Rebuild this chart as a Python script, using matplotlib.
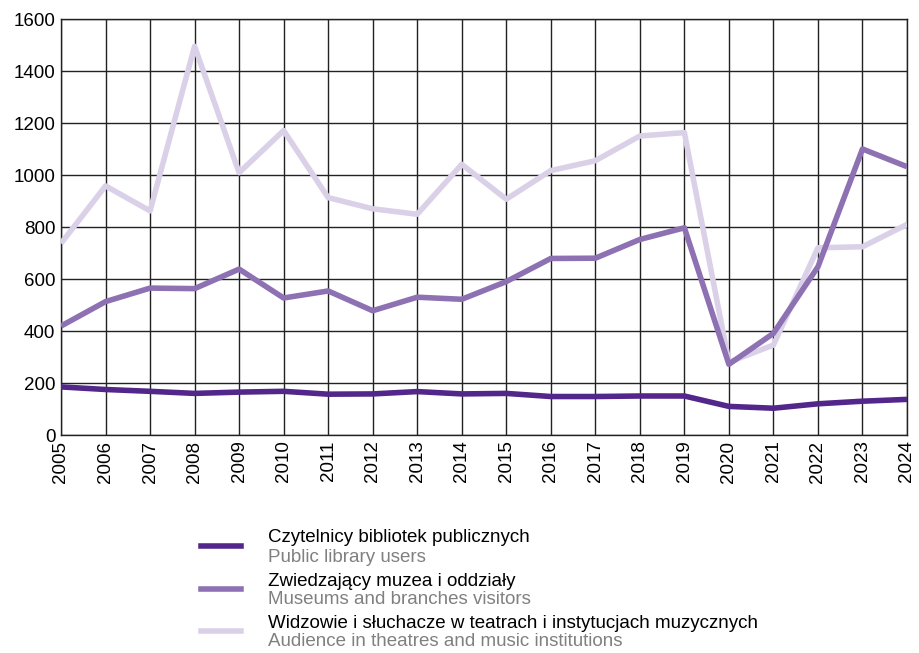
import numpy as np
import matplotlib.pyplot as plt
from matplotlib.lines import Line2D

plt.rcParams['font.family'] = ['Liberation Sans', 'DejaVu Sans']

years = list(range(2005, 2025))
library = [185, 175, 168, 160, 165, 168, 157, 158, 167, 158,
           160, 148, 148, 150, 150, 110, 103, 120, 130, 137]
museums = [419, 513, 565, 563, 638, 527, 554, 478, 530, 522,
           590, 679, 680, 752, 797, 272, 391, 647, 1100, 1032]
audience = [737, 958, 862, 1495, 1009, 1171, 913, 870, 849, 1041,
            907, 1017, 1055, 1150, 1163, 280, 346, 720, 724, 810]

labels_pl = ['Czytelnicy bibliotek publicznych',
             'Zwiedzający muzea i oddziały',
             'Widzowie i słuchacze w teatrach i instytucjach muzycznych']
labels_en = ['Public library users',
             'Museums and branches visitors',
             'Audience in theatres and music institutions']
colors = ['#52268a', '#8d71b3', '#dad1e8']

fig = plt.figure(figsize=(9.19, 6.53), dpi=100)
ax = fig.add_axes([61/919, 1-435/653, 846/919, 416/653])

series = [library, museums, audience]
for vals, c in reversed(list(zip(series, colors))):
    ax.plot(years, vals, color=c, lw=4, solid_capstyle='butt', zorder=3)

ax.set_xlim(2005, 2024)
ax.set_ylim(0, 1600)
ax.set_xticks(years)
ax.set_xticklabels([str(y) for y in years], rotation=90, fontsize=13.5)
ax.set_yticks(np.arange(0, 1601, 200))
ax.tick_params(axis='y', labelsize=13.5, length=0, pad=4)
ax.tick_params(axis='x', length=0, pad=4)
ax.grid(True, color='#222222', lw=1)
for s in ax.spines.values():
    s.set_color('#222222')
    s.set_linewidth(1)

ys = [546, 589, 631]
for y, c, pl, en in zip(ys, colors, labels_pl, labels_en):
    fy = 1 - y/653
    fig.add_artist(Line2D([201/919, 241/919], [fy, fy], color=c, lw=4,
                          transform=fig.transFigure))
    fig.text(268/919, fy + 8/653, pl, fontsize=13.5, color='black', va='center')
    fig.text(268/919, fy - 11/653, en, fontsize=13.5, color='#808080', va='center')

fig.savefig('out.png', dpi=100)
